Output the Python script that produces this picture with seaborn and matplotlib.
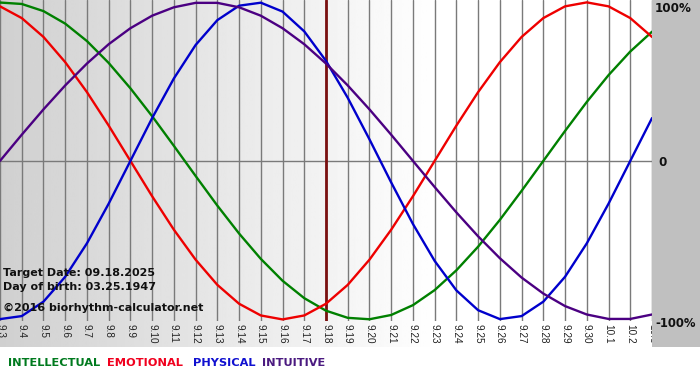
import numpy as np
import pandas as pd
import matplotlib
matplotlib.use("Agg")
import matplotlib.pyplot as plt
from matplotlib.patches import Rectangle
import seaborn as sns

# ---- data ----
days = ["9.3", "9.4", "9.5", "9.6", "9.7", "9.8", "9.9", "9.10", "9.11", "9.12",
        "9.13", "9.14", "9.15", "9.16", "9.17", "9.18", "9.19", "9.20", "9.21",
        "9.22", "9.23", "9.24", "9.25", "9.26", "9.27", "9.28", "9.29", "9.30",
        "10.1", "10.2", "10.3"]

intellectual = [0.999, 0.990, 0.945, 0.866, 0.756, 0.618, 0.458, 0.282, 0.095,
                -0.095, -0.282, -0.458, -0.618, -0.756, -0.866, -0.945, -0.990,
                -0.999, -0.972, -0.910, -0.815, -0.690, -0.541, -0.372, -0.189,
                0.000, 0.189, 0.372, 0.541, 0.690, 0.815]
emotional = [0.975, 0.901, 0.782, 0.623, 0.434, 0.223, 0.000, -0.223, -0.434,
             -0.623, -0.782, -0.901, -0.975, -1.000, -0.975, -0.901, -0.782,
             -0.623, -0.434, -0.223, 0.000, 0.223, 0.434, 0.623, 0.782, 0.901,
             0.975, 1.000, 0.975, 0.901, 0.782]
physical = [-0.998, -0.979, -0.888, -0.731, -0.520, -0.270, 0.000, 0.270, 0.520,
            0.731, 0.888, 0.979, 0.998, 0.942, 0.817, 0.631, 0.398, 0.136,
            -0.136, -0.398, -0.631, -0.817, -0.942, -0.998, -0.979, -0.888,
            -0.731, -0.520, -0.270, 0.000, 0.270]
intuitive = [0.000, 0.165, 0.325, 0.476, 0.614, 0.736, 0.837, 0.916, 0.969,
             0.997, 0.997, 0.969, 0.916, 0.837, 0.736, 0.614, 0.476, 0.325,
             0.165, 0.000, -0.165, -0.325, -0.476, -0.614, -0.736, -0.837,
             -0.916, -0.969, -0.997, -0.997, -0.969]

series_names = ["INTELLECTUAL", "EMOTIONAL", "PHYSICAL", "INTUITIVE"]
target_day = "9.18"
info_lines = ["Target Date: 09.18.2025", "Day of birth: 03.25.1947"]
copyright_text = "\u00a92016 biorhythm-calculator.net"
right_labels = ["100%", "0", "-100%"]

# ---- styling ----
colors = {"INTELLECTUAL": "#008000", "EMOTIONAL": "#ee0000",
          "PHYSICAL": "#0000cc", "INTUITIVE": "#4b0082"}
legend_colors = {"INTELLECTUAL": "#007a1e", "EMOTIONAL": "#f0001e",
                 "PHYSICAL": "#1010d0", "INTUITIVE": "#4b1a80"}

sns.set_theme(style="white")
plt.rcParams['font.family'] = ['DejaVu Sans']

W, H = 700, 380
fig = plt.figure(figsize=(W / 100, H / 100), dpi=100)
fig.patch.set_facecolor("white")


def fr(x0, y0, x1, y1):
    return [x0 / W, 1 - y1 / H, (x1 - x0) / W, (y1 - y0) / H]


# background gradient (plot + tick label band)
bg = fig.add_axes(fr(0, 0, 652, 347))
grad = np.clip(np.linspace(0.815, 1.09, 400), 0, 1)[None, :]
bg.imshow(grad, aspect="auto", cmap="gray", vmin=0, vmax=1,
          extent=[0, 1, 0, 1])
bg.set_axis_off()

# grey strip on right
fig.patches.append(Rectangle((652 / W, 1 - 347 / H), 48 / W, 347 / H,
                             transform=fig.transFigure, facecolor="#c0c0c0",
                             edgecolor="none", zorder=0))

ax = fig.add_axes(fr(0, 0, 652, 321))
ax.patch.set_alpha(0)

n = len(days)
xs = list(range(n))
df = pd.DataFrame({
    "x": xs * 4,
    "value": intellectual + emotional + physical + intuitive,
    "series": sum([[s] * n for s in series_names], []),
})

for i in xs:
    ax.axvline(i, color="#7a7a7a", lw=1.0, zorder=1)
ax.axhline(0, color="#7a7a7a", lw=1.0, zorder=1)
ax.axvline(days.index(target_day), color="#7a1010", lw=2.0, zorder=2)

sns.lineplot(data=df, x="x", y="value", hue="series", palette=colors,
             hue_order=series_names, linewidth=1.7, legend=False, ax=ax,
             zorder=3)

ax.set_xlim(0, n - 1)
ax.set_ylim(-1.01, 1.015)
ax.set_xticks(xs)
ax.set_xticklabels(days, rotation=-90, fontsize=7.2, color="#222222",
                   family="Liberation Sans")
ax.tick_params(axis="x", length=0, pad=2)
ax.set_yticks([])
ax.set_xlabel("")
ax.set_ylabel("")
for sp in ax.spines.values():
    sp.set_visible(False)

# info texts
fig.text(3 / W, 1 - 276 / H, info_lines[0], fontsize=8.0, fontweight="bold",
         color="#111111", va="baseline")
fig.text(3 / W, 1 - 290 / H, info_lines[1], fontsize=8.0, fontweight="bold",
         color="#111111", va="baseline")
fig.text(3 / W, 1 - 311 / H, copyright_text, fontsize=8.0, fontweight="bold",
         color="#111111", va="baseline")

# right labels
fig.text(655 / W, 1 - 12 / H, right_labels[0], fontsize=8.6,
         fontweight="bold", color="#111111", va="baseline")
fig.text(658 / W, 1 - 166 / H, right_labels[1], fontsize=8.6,
         fontweight="bold", color="#111111", va="baseline")
fig.text(655 / W, 1 - 327 / H, right_labels[2], fontsize=8.4,
         fontweight="bold", color="#111111", va="baseline")

# legend labels
lx = [8, 107, 193, 262]
for name, x in zip(series_names, lx):
    fig.text(x / W, 1 - 366 / H, name, fontsize=8.2, fontweight="bold",
             color=legend_colors[name], va="baseline")

fig.savefig("out.png", dpi=100, facecolor="white")
